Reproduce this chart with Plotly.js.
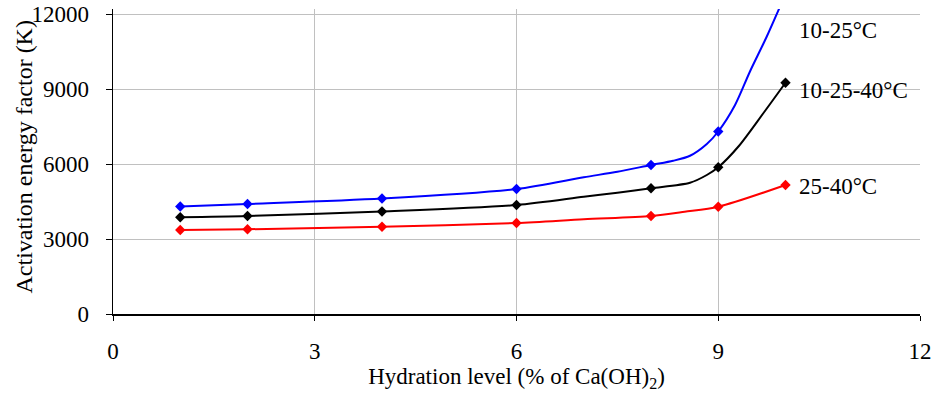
<!DOCTYPE html>
<html>
<head>
<meta charset="utf-8">
<script src="https://cdn.plot.ly/plotly-3.0.1.min.js"></script>
<style>html,body{margin:0;padding:0;background:#fff;}#chart{width:936px;height:395px;}</style>
</head>
<body>
<div id="chart"></div>
<script>
// Marker points (hydration level, % of Ca(OH)2)
const markerX = [1, 2, 4, 6, 8, 9, 10];
const blueMarkerY  = [4300, 4400, 4620, 5000, 5960, 7300, 12800];
const blackMarkerY = [3870, 3920, 4100, 4360, 5030, 5870, 9250];
const redMarkerY   = [3360, 3390, 3490, 3640, 3920, 4290, 5160];

// Curve points
const blueLineX  = [1, 2, 4, 6, 7, 7.5, 8, 8.33, 8.58, 8.83, 9, 9.25, 9.47, 9.72, 10];
const blueLineY  = [4300, 4400, 4620, 5000, 5470, 5690, 5960, 6130, 6330, 6800, 7300, 8360, 9690, 11090, 12800];
const blackLineX = [1, 2, 4, 6, 7, 7.5, 8, 8.58, 8.83, 9, 9.3, 9.67, 10];
const blackLineY = [3870, 3920, 4100, 4360, 4690, 4850, 5030, 5250, 5560, 5870, 6700, 8030, 9250];
const redLineX   = [1, 2, 4, 6, 7, 8, 8.5, 9, 10];
const redLineY   = [3360, 3390, 3490, 3640, 3790, 3920, 4090, 4290, 5160];

const seriesNames = ["10-25°C", "10-25-40°C", "25-40°C"];
const xTicks = [0, 3, 6, 9, 12];
const yTicks = [0, 3000, 6000, 9000, 12000];

const FONT = "Liberation Serif, Times New Roman, serif";
const colors = ["#0000ff", "#000000", "#ff0000"];
const lines = [[blueLineX, blueLineY], [blackLineX, blackLineY], [redLineX, redLineY]];
const marks = [blueMarkerY, blackMarkerY, redMarkerY];

const traces = [];
for (let i = 0; i < 3; i++) {
  traces.push({
    x: lines[i][0], y: lines[i][1], type: "scatter", mode: "lines",
    line: {color: colors[i], width: 2, shape: "spline", smoothing: 0.8},
    name: seriesNames[i], showlegend: false, hoverinfo: "skip"
  });
  traces.push({
    x: markerX, y: marks[i], type: "scatter", mode: "markers",
    marker: {color: colors[i], symbol: "diamond", size: 8},
    name: seriesNames[i], showlegend: false
  });
}

const labelY = [11360, 8960, 5120];
const annotations = seriesNames.map((t, i) => ({
  text: t, x: 10.17, y: labelY[i], xref: "x", yref: "y",
  xanchor: "left", yanchor: "middle", showarrow: false,
  font: {family: FONT, size: 23, color: "#000"}
}));
annotations.push({
  text: "Activation energy factor (K)", textangle: -90,
  xref: "paper", x: 0, xanchor: "center", xshift: -90,
  yref: "y", y: 720, yanchor: "bottom", showarrow: false,
  font: {family: FONT, size: 24, color: "#000"}
});

const layout = {
  width: 936, height: 395,
  margin: {l: 113, r: 16, t: 9, b: 81},
  paper_bgcolor: "#fff", plot_bgcolor: "#fff",
  showlegend: false,
  font: {family: FONT, size: 23, color: "#000"},
  xaxis: {
    range: [0, 12], tickvals: xTicks, ticktext: xTicks.map(String),
    showgrid: true, gridcolor: "#c0c0c0", gridwidth: 1,
    showline: true, linecolor: "#000", linewidth: 1.5,
    ticks: "outside", ticklen: 5, tickcolor: "#000",
    zeroline: false, ticklabelstandoff: 11,
    tickfont: {family: FONT, size: 23, color: "#000"},
    title: {text: "Hydration level (% of Ca(OH)<sub>2</sub>)", font: {family: FONT, size: 23, color: "#000"}, standoff: 1}
  },
  yaxis: {
    range: [0, 12200], tickvals: yTicks, ticktext: yTicks.map(String),
    showgrid: true, gridcolor: "#c0c0c0", gridwidth: 1,
    showline: true, linecolor: "#000", linewidth: 1.5,
    ticks: "outside", ticklen: 6, tickcolor: "#000",
    zeroline: false, ticklabelstandoff: 12,
    tickfont: {family: FONT, size: 23, color: "#000"}
  },
  annotations: annotations
};

Plotly.newPlot("chart", traces, layout, {displayModeBar: false, staticPlot: true});
</script>
</body>
</html>
